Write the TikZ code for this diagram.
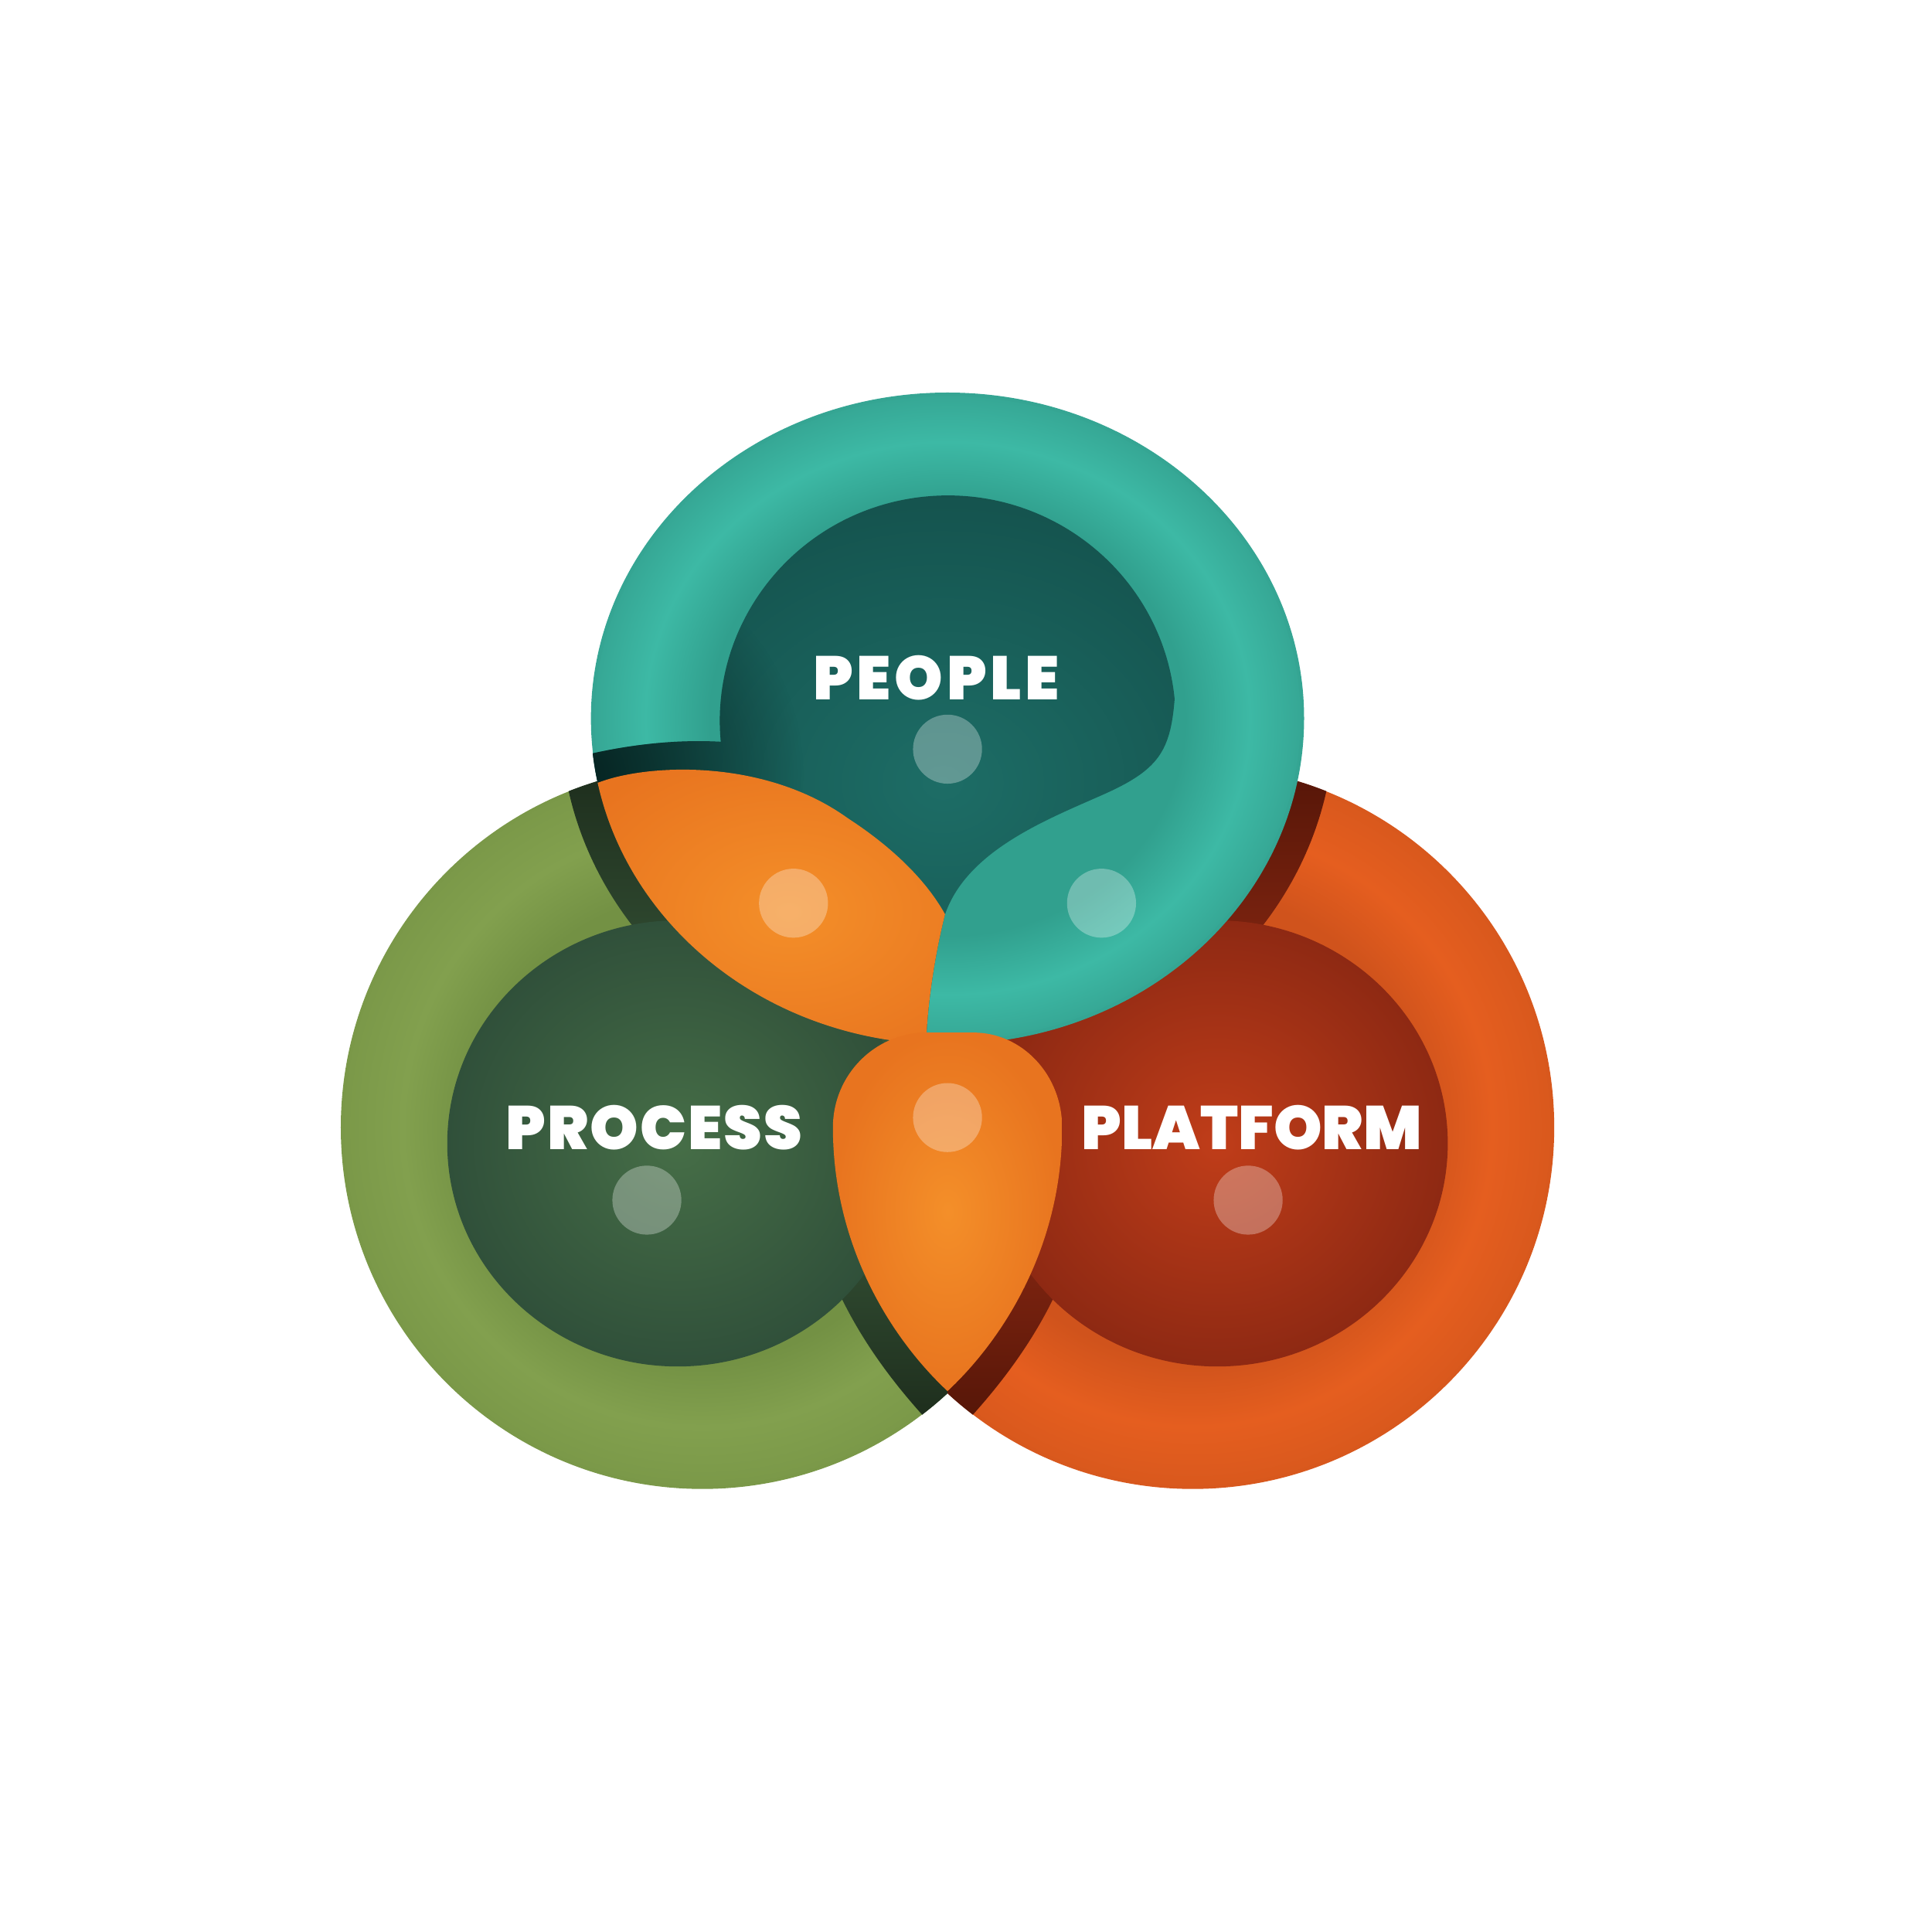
\documentclass[tikz,border=0pt]{standalone}
\usepackage{fontspec}
\newfontfamily\labelfont{Poppins}[UprightFont=* Black, BoldFont=* Black]
\usetikzlibrary{fadings}

% ring and fill colours
\definecolor{tealA}{HTML}{31A08E}
\definecolor{tealB}{HTML}{3DB9A5}
\definecolor{tealC}{HTML}{35A593}
\definecolor{greenA}{HTML}{739144}
\definecolor{greenB}{HTML}{82A04E}
\definecolor{greenC}{HTML}{7A9848}
\definecolor{redA}{HTML}{D0531C}
\definecolor{redB}{HTML}{E55E1F}
\definecolor{redC}{HTML}{D8581D}
\definecolor{peoplein}{HTML}{1D6D66}
\definecolor{peopleout}{HTML}{14524D}
\definecolor{procin}{HTML}{466E47}
\definecolor{procout}{HTML}{30503A}
\definecolor{platin}{HTML}{C03D19}
\definecolor{platout}{HTML}{8E2913}
\definecolor{orangein}{HTML}{F48F29}
\definecolor{orangeout}{HTML}{E8741F}
\definecolor{bandgreenA}{HTML}{1E2E1D}
\definecolor{bandgreenB}{HTML}{3B5C3D}
\definecolor{bandredA}{HTML}{561608}
\definecolor{bandredB}{HTML}{982D15}
\definecolor{tealshadow}{HTML}{062321}

\pgfdeclareradialshading{tealring}{\pgfpoint{0bp}{0bp}}{color(0bp)=(tealA); color(16.5bp)=(tealA); color(21bp)=(tealB); color(25bp)=(tealC); color(50bp)=(tealC)}
\pgfdeclareradialshading{greenring}{\pgfpoint{0bp}{0bp}}{color(0bp)=(greenA); color(16bp)=(greenA); color(20.5bp)=(greenB); color(25bp)=(greenC); color(50bp)=(greenC)}
\pgfdeclareradialshading{redring}{\pgfpoint{0bp}{0bp}}{color(0bp)=(redA); color(16bp)=(redA); color(20.5bp)=(redB); color(25bp)=(redC); color(50bp)=(redC)}
\tikzfading[name=shadowfade, inner color=transparent!0, outer color=transparent!100]

\begin{document}
\begin{tikzpicture}[x=0.01cm, y=-0.01cm,
	dot/.style={white, fill opacity=0.3},
	rim/.style={line width=0.8pt},
	word/.style={text=white, inner sep=0pt, font=\labelfont\addfontfeatures{LetterSpace=#1}\fontsize{14.2}{14.2}\selectfont},
	word/.default=0,
	petal/.style={insert path={(676,915) arc[start angle=180, end angle=270, x radius=76, y radius=77]
		-- (790,838) arc[start angle=270, end angle=360, x radius=72, y radius=77]
		.. controls (862,1010) and (816,1085) .. (769,1129) .. controls (722,1085) and (676,1010) .. (676,915) -- cycle}},
	bigpetal/.style={insert path={(651,915) arc[start angle=180, end angle=270, x radius=101, y radius=102]
		-- (790,813) arc[start angle=270, end angle=360, x radius=97, y radius=102]
		.. controls (887,1030) and (828,1110) .. (769,1170) .. controls (710,1110) and (651,1030) .. (651,915) -- cycle}},
	tealgap/.style={insert path={(440,614) -- (470,614) .. controls (510,604) and (550,600) .. (585,602)
		arc[start angle=174.7, end angle=354.4, x radius=185, y radius=183]
		.. controls (950,610) and (940,625) .. (895,645) .. controls (850,665) and (785,690) .. (767,742)
		.. controls (760,770) and (754,805) .. (752,838) -- (752,880) -- (440,880) -- cycle}},
	lens/.style={insert path={(440,640) -- (486,635) .. controls (525,620) and (620,615) .. (688,664)
		.. controls (725,688) and (752,715) .. (767,742)
		.. controls (760,770) and (754,805) .. (752,838) -- (752,880) -- (440,880) -- cycle}}]
	\useasboundingbox (0,0) rectangle (1568,1568);
	\def\R{292}
	\coordinate (LC) at (570,915);
	\coordinate (RC) at (968,915);
	\coordinate (TC) at (769,583);
	% outer rings
	\begin{scope}
		\clip (LC) circle[radius=\R];
		\shade[shading=greenring] (LC) circle[radius=\R+4];
	\end{scope}
	\draw[greenC, rim] (LC) circle[radius=\R];
	\begin{scope}
		\clip (769,0) rectangle (1568,1568);
		\begin{scope}
			\clip (RC) circle[radius=\R];
			\shade[shading=redring] (RC) circle[radius=\R+4];
		\end{scope}
		\draw[redC, rim] (RC) circle[radius=\R];
	\end{scope}
	% shadow bands under the people disk and the petal
	\begin{scope}
		\clip (LC) circle[radius=\R+1.6];
		\clip (0,0) rectangle (769,1568);
		\begin{scope}
			\clip (TC) ellipse[x radius=314, y radius=290];
			\shade[top color=bandgreenA, bottom color=bandgreenB] (430,625) rectangle (769,870);
		\end{scope}
		\clip[bigpetal];
		\shade[top color=bandgreenB, bottom color=bandgreenA] (620,940) rectangle (769,1150);
	\end{scope}
	\begin{scope}
		\clip (RC) circle[radius=\R+1.6];
		\clip (769,0) rectangle (1568,1568);
		\begin{scope}
			\clip (TC) ellipse[x radius=314, y radius=290];
			\shade[top color=bandredA, bottom color=bandredB] (769,625) rectangle (1110,870);
		\end{scope}
		\clip[bigpetal];
		\shade[top color=bandredB, bottom color=bandredA] (769,940) rectangle (920,1150);
	\end{scope}
	% inner discs
	\shade[inner color=procin, outer color=procout] (550,928) ellipse[x radius=187, y radius=181];
	\shade[inner color=platin, outer color=platout] (988,928) ellipse[x radius=187, y radius=181];
	% people disk
	\begin{scope}
		\clip (TC) ellipse[x radius=288, y radius=263];
		\shade[shading=tealring] (TC) ellipse[x radius=292, y radius=267];
	\end{scope}
	\draw[tealC, rim] (TC) ellipse[x radius=288, y radius=263];
	\begin{scope}
		\clip (TC) ellipse[x radius=289.6, y radius=264.6];
		\clip[tealgap];
		\shade[inner color=peoplein, outer color=peopleout] (470,390) rectangle (1060,880);
		\fill[tealshadow, path fading=shadowfade] (472,628) circle[radius=180];
	\end{scope}
	\begin{scope}
		\clip (TC) ellipse[x radius=289.6, y radius=264.6];
		\clip[lens];
		\shade[inner color=orangein, outer color=orangeout] (440,600) rectangle (840,880);
	\end{scope}
	% petal
	\shade[inner color=orangein, outer color=orangeout, petal];
	% dots
	\foreach \dx/\dy in {769/608, 644/733, 894/733, 769/907, 525/974, 1013/974}
		\fill[dot] (\dx,\dy) circle[radius=28];
	% labels
	\node[word=6] (people) at (760,550) {PEOPLE};
	\node[word=2.6] (process) at (531,915) {PROCESS};
	\node[word] (platform) at (1016,915) {PLATFORM};
\end{tikzpicture}
\end{document}
